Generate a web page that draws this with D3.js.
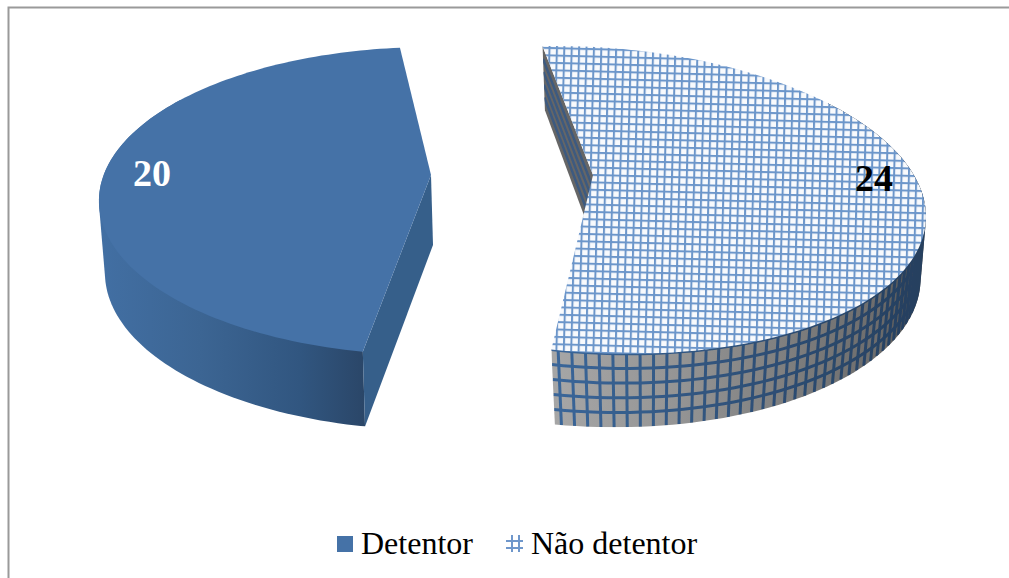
<!DOCTYPE html>
<html><head><meta charset="utf-8">
<script src="https://cdn.jsdelivr.net/npm/d3@7"></script>
<style>html,body{margin:0;padding:0;background:#fff}svg{display:block}text{font-family:"Liberation Serif",serif}</style>
</head><body><svg id="c" width="1009" height="578"></svg>
<script>
const categories = ["Detentor", "Não detentor"];
const values = [20, 24];
const valueLabels = ["20", "24"];

const svg = d3.select("#c");
const defs = svg.append("defs");
const rad = d => d * Math.PI / 180;

// frame
svg.append("path").attr("d","M1009,7.5H8.5V578").attr("fill","none").attr("stroke","#9a9a9a").attr("stroke-width",2);

// perspective planes of each exploded slice
const planes = [
  { turn: 0,    frontSpan: 0.7,  top:{cx:431,cy:175,A:327.3,B:149.6,k:-0.169,s:0},    bot:{cx:433,cy:245,A:322.8,B:152,k:-0.178,s:0} },
  { turn: -3.9, frontSpan: 0.68, top:{cx:593,cy:175,A:328.5,B:148.9,k:-0.163,s:0.05}, bot:{cx:595,cy:245,A:322,B:155,k:-0.148,s:0.03} }
];
const project = (p, r, a) => {
  const u = r*Math.sin(a), v = -r*Math.cos(a), w = 1 + p.k*v;
  const dx = p.A*u/w;
  return [p.cx + dx, p.cy + p.B*v/w + p.s*dx];
};
const pie = d3.pie().sort(null).startAngle(rad(190)).endAngle(rad(550));
const arcs = pie(values);
const line = d3.line();
const mix = (p,q,t)=>[p[0]+(q[0]-p[0])*t,p[1]+(q[1]-p[1])*t];

function grad(id, stops){
  const g = defs.append("linearGradient").attr("id",id).attr("gradientUnits","userSpaceOnUse")
    .attr("x1",stops[0][0]).attr("x2",stops[stops.length-1][0]).attr("y1",0).attr("y2",0);
  const x0=stops[0][0], x1=stops[stops.length-1][0];
  stops.forEach(s=>g.append("stop").attr("offset",(s[0]-x0)/(x1-x0)).attr("stop-color",s[1]));
}
grad("wallBlue",[[100,"#426fa3"],[200,"#3c6593"],[300,"#315680"],[370,"#2a4566"]]);
grad("wallGrey",[[555,"#a6a6a6"],[680,"#949494"],[800,"#7c7c7c"],[880,"#6c6c6c"],[925,"#444"]]);
grad("lineBlue",[[555,"#3a6699"],[700,"#31557f"],[925,"#263f5e"]]);

const pat = defs.append("pattern").attr("id","grid").attr("patternUnits","userSpaceOnUse")
  .attr("width",7.4).attr("height",7.4).attr("patternTransform","rotate(1.5) translate(2,3)");
pat.append("rect").attr("width",7.4).attr("height",7.4).attr("fill","#f8fafd");
pat.append("rect").attr("width",2).attr("height",7.4).attr("fill","#6c96ca");
pat.append("rect").attr("width",7.4).attr("height",2).attr("fill","#6c96ca");
defs.append("filter").attr("id","soft").append("feGaussianBlur").attr("stdDeviation",0.7);
defs.append("filter").attr("id","softTop").append("feGaussianBlur").attr("stdDeviation",0.35);

const wallRows = d3.range(0,1,0.2);

arcs.forEach((d,i)=>{
  const P = planes[i];
  const a0 = d.startAngle + rad(P.turn), a1 = d.endAngle + rad(P.turn);
  const angles = d3.range(0,121).map(j=>a0+(a1-a0)*j/120);
  const topArc = angles.map(a=>project(P.top,1,a));
  const botArc = angles.map(a=>project(P.bot,1,a));
  const topApex = project(P.top,0,0), botApex = project(P.bot,0,0);
  const g = svg.append("g");

  // the near part of the outer wall; its hull is hidden by the top surface where it overshoots
  const near = i===0 ? d3.range(0,Math.round(120*P.frontSpan)) : d3.range(Math.round(120*(1-P.frontSpan)),121);
  const hull = d3.polygonHull(near.flatMap(j=>[topArc[j],botArc[j]]));
  const clipId = "wallClip"+i;
  defs.append("clipPath").attr("id",clipId).append("path").attr("d",line(hull)+"Z");
  const xr = d3.extent(hull,p=>p[0]), yr = d3.extent(hull,p=>p[1]);

  const wall = g.append("g").attr("clip-path",`url(#${clipId})`);
  wall.append("rect").attr("x",xr[0]).attr("y",yr[0]).attr("width",xr[1]-xr[0]).attr("height",yr[1]-yr[0])
    .attr("fill", i===0 ? "url(#wallBlue)" : "url(#wallGrey)");

  if(i===0){
    g.append("path").attr("d",line([topArc[0],topApex,botApex,botArc[0]])+"Z").attr("fill","#365f8a");
  } else {
    const face = [topArc[0],topApex,botApex,botArc[0]];
    g.append("path").attr("d",line(face)+"Z").attr("fill","#666");
    defs.append("clipPath").attr("id","faceClip").append("path").attr("d",line(face)+"Z");
    const fg = g.append("g").attr("clip-path","url(#faceClip)").append("g")
      .attr("stroke","#3c5a80").attr("stroke-width",2.4).attr("fill","none").attr("filter","url(#soft)");
    wallRows.slice(1).forEach(t=>{
      fg.append("path").attr("d",line([mix(topArc[0],botArc[0],t),mix(topApex,botApex,t)]));
    });
    // hatch on the outer wall
    const lg = wall.append("g").attr("fill","none").attr("stroke","url(#lineBlue)").attr("stroke-width",3).attr("filter","url(#soft)");
    wallRows.forEach(t=>{
      lg.append("path").attr("d",line(topArc.map((p,j)=>mix(p,botArc[j],t))));
    });
    for(let a=a1-rad(1); a>a0+Math.PI*0.3; a-=rad(2.0)){
      lg.append("path").attr("d",line([project(P.top,1,a),project(P.bot,1,a)]));
    }
  }
  // top surface
  const topShape = [topApex].concat(topArc);
  g.append("path").attr("d",line(topShape)+"Z")
    .attr("fill", i===0 ? "#4572a7" : "url(#grid)")
    .attr("filter", i===0 ? null : "url(#softTop)");
});

// value labels
const labelAnchors = [[152,186],[874,191]];
valueLabels.forEach((t,i)=>{
  svg.append("text").attr("x",labelAnchors[i][0]).attr("y",labelAnchors[i][1])
    .attr("text-anchor","middle").attr("font-size",38).attr("font-weight","bold")
    .attr("fill",i===0?"#fff":"#000").text(t);
});

// legend
svg.append("rect").attr("x",337).attr("y",536).attr("width",16).attr("height",16).attr("fill","#4572a7");
const h = svg.append("g").attr("stroke","#6f97cb").attr("stroke-width",2);
[512,519].forEach(x=>h.append("line").attr("x1",x).attr("x2",x).attr("y1",535).attr("y2",552));
[541,548].forEach(y=>h.append("line").attr("x1",506).attr("x2",523).attr("y1",y).attr("y2",y));
const legendX=[361,531];
categories.forEach((c,i)=>{
  svg.append("text").attr("x",legendX[i]).attr("y",554).attr("font-size",32).attr("fill","#000").text(c);
});
</script></body></html>
